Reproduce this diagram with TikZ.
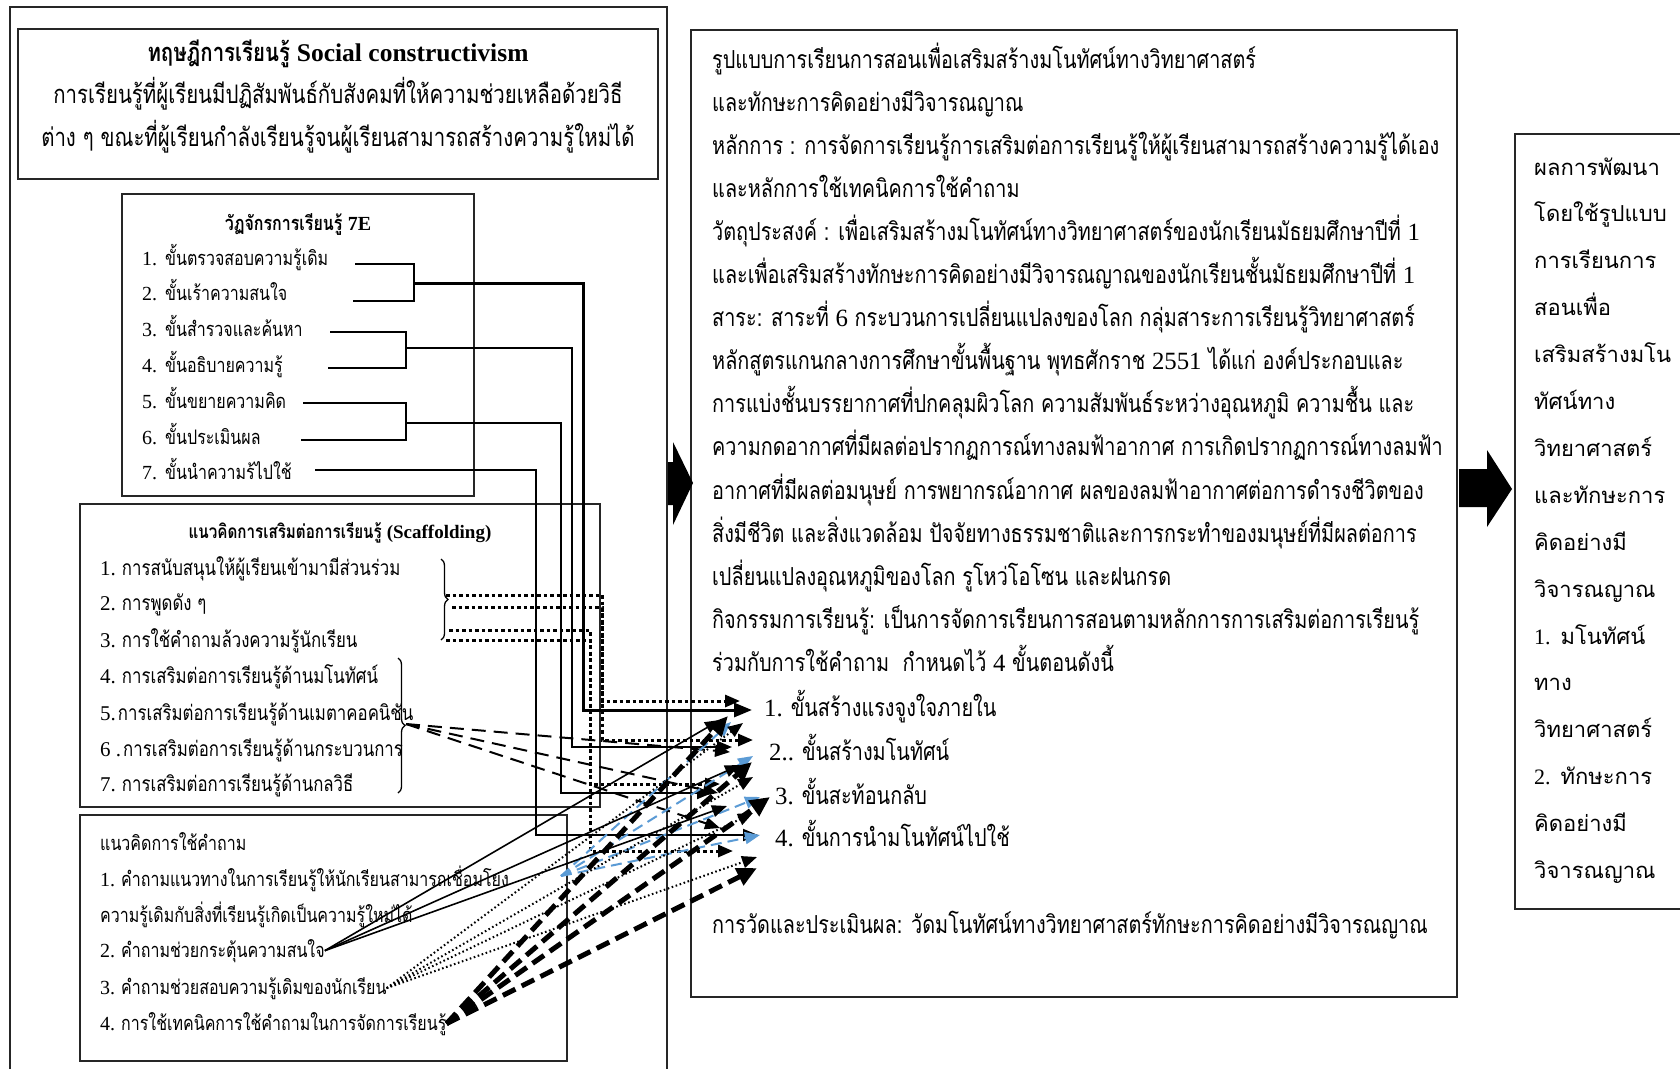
\documentclass[tikz,border=0pt]{standalone}
\usepackage{fontspec}
\setmainfont{Liberation Serif}
\newfontfamily\lat{Liberation Serif}
\newfontfamily\thai[Script=Thai,FakeStretch=0.8]{Loma}
\newfontfamily\thaiw[Script=Thai]{Loma}
\usetikzlibrary{arrows.meta,decorations.pathreplacing,calc}
\definecolor{lineblue}{HTML}{5B9BD5}
\begin{document}
\begin{tikzpicture}[x=1pt,y=-1pt,
  frame/.style={draw=black!85,line width=1.2pt},
  txt/.style={inner sep=0pt,anchor=base west},
  ctxt/.style={inner sep=0pt,anchor=base},
  big/.style={font=\fontsize{24.8}{24}\selectfont\thai},
  head/.style={font=\fontsize{25.5}{24}\selectfont\thai},
  mid/.style={font=\fontsize{20}{20}\selectfont\thai},
  small/.style={font=\fontsize{21}{21}\selectfont\thai},
  qtxt/.style={font=\fontsize{20}{20}\selectfont\thai},
  sctitle/.style={font=\fontsize{19}{19}\selectfont\thai},
  side/.style={font=\fontsize{22}{22}\selectfont\thaiw},
  tip/.style={-{Triangle[length=15pt,width=12pt]}},
  bigtip/.style={-{Triangle[length=20pt,width=18pt]}},
  link/.style={line width=2pt,tip},
  linkthick/.style={line width=3pt,-{Triangle[length=18pt,width=14pt]}},
  sdot/.style={line width=3pt,dash pattern=on 3.5pt off 3pt,tip},
  sdash/.style={line width=2pt,dash pattern=on 14pt off 8pt,tip},
  qblue/.style={draw=lineblue,line width=2pt,dash pattern=on 11pt off 6pt,-{Triangle[length=15pt,width=12pt,fill=lineblue]}},
  qsolid/.style={line width=1.6pt,tip},
  qdot/.style={line width=2pt,dash pattern=on 1.6pt off 2.6pt,tip},
  qdash/.style={line width=5pt,dash pattern=on 14pt off 7pt,bigtip},
  brk/.style={line width=1.3pt}
]
\useasboundingbox[fill=white] (0,0) rectangle (1680,1069);

% ---------- frames ----------
\draw[frame] (10,1069) -- (10,7) -- (667,7) -- (667,1069);
\draw[frame] (18,29) rectangle (658,179);
\draw[frame] (122,194) rectangle (474,496);
\draw[frame] (80,504) rectangle (600,807);
\draw[frame] (80,815) rectangle (567,1061);
\draw[frame] (691,30) rectangle (1457,997);
\draw[frame] (1680,134) -- (1515,134) -- (1515,909) -- (1680,909);

% ---------- block arrows ----------
\fill (668,462) -- (673,462) -- (673,442) -- (693,483) -- (673,525) -- (673,505) -- (668,505) -- cycle;
\fill (1459,469) -- (1487,469) -- (1487,450) -- (1512,489) -- (1487,527) -- (1487,507) -- (1459,507) -- cycle;

% ---------- theory ----------
\node[ctxt,head] (th0) at (338,61) {\bfseries ทฤษฎีการเรียนรู้ {\lat\bfseries Social constructivism}};
\node[ctxt,head] (th1) at (338,103) {การเรียนรู้ที่ผู้เรียนมีปฏิสัมพันธ์กับสังคมที่ให้ความช่วยเหลือด้วยวิธี};
\node[ctxt,head] (th2) at (338,146) {ต่าง ๆ ขณะที่ผู้เรียนกำลังเรียนรู้จนผู้เรียนสามารถสร้างความรู้ใหม่ได้};

% ---------- 7E cycle ----------
\node[ctxt,mid] (e0) at (298,230) {\bfseries วัฏจักรการเรียนรู้ {\lat\bfseries 7E}};
\foreach \t [count=\i] in {ขั้นตรวจสอบความรู้เดิม,ขั้นเร้าความสนใจ,ขั้นสำรวจและค้นหา,ขั้นอธิบายความรู้,ขั้นขยายความคิด,ขั้นประเมินผล,ขั้นนำความร้ไปใช้}
  \node[txt,mid] (e\i) at (142,{265+35.8*(\i-1)}) {{\lat\i.}\hspace{8pt}\t};

% ---------- scaffolding ----------
\node[ctxt,sctitle] (sc0) at (340,538) {\bfseries แนวคิดการเสริมต่อการเรียนรู้ {\lat\bfseries (Scaffolding)}};
\node[txt,small] (sc1) at (100,575) {{\lat 1.}\hspace{6pt}การสนับสนุนให้ผู้เรียนเข้ามามีส่วนร่วม};
\node[txt,small] (sc2) at (100,610) {{\lat 2.}\hspace{6pt}การพูดดัง ๆ};
\node[txt,small] (sc3) at (100,647) {{\lat 3.}\hspace{6pt}การใช้คำถามล้วงความรู้นักเรียน};
\node[txt,small] (sc4) at (100,683) {{\lat 4.}\hspace{6pt}การเสริมต่อการเรียนรู้ด้านมโนทัศน์};
\node[txt,small] (sc5) at (100,720) {{\lat 5.}\hspace{2pt}การเสริมต่อการเรียนรู้ด้านเมตาคอคนิชัน};
\node[txt,small] (sc6) at (100,756) {{\lat 6 .}\hspace{2pt}การเสริมต่อการเรียนรู้ด้านกระบวนการ};
\node[txt,small] (sc7) at (100,791) {{\lat 7.}\hspace{6pt}การเสริมต่อการเรียนรู้ด้านกลวิธี};

% ---------- questioning ----------
\node[txt,qtxt] (q0) at (100,850) {แนวคิดการใช้คำถาม};
\node[txt,qtxt] (q1) at (100,886) {{\lat 1.}\hspace{6pt}คำถามแนวทางในการเรียนรู้ให้นักเรียนสามารถเชื่อมโยง};
\node[txt,qtxt] (q1b) at (100,922) {ความรู้เดิมกับสิ่งที่เรียนรู้เกิดเป็นความรู้ใหม่ได้};
\node[txt,qtxt] (q2) at (100,957) {{\lat 2.}\hspace{6pt}คำถามช่วยกระตุ้นความสนใจ};
\node[txt,qtxt] (q3) at (100,994) {{\lat 3.}\hspace{6pt}คำถามช่วยสอบความรู้เดิมของนักเรียน};
\node[txt,qtxt] (q4) at (100,1030) {{\lat 4.}\hspace{6pt}การใช้เทคนิคการใช้คำถามในการจัดการเรียนรู้};

% ---------- model description ----------
\foreach \t [count=\i] in {%
  รูปแบบการเรียนการสอนเพื่อเสริมสร้างมโนทัศน์ทางวิทยาศาสตร์,
  และทักษะการคิดอย่างมีวิจารณญาณ,
  หลักการ : การจัดการเรียนรู้การเสริมต่อการเรียนรู้ให้ผู้เรียนสามารถสร้างความรู้ได้เอง,
  และหลักการใช้เทคนิคการใช้คำถาม,
  วัตถุประสงค์ : เพื่อเสริมสร้างมโนทัศน์ทางวิทยาศาสตร์ของนักเรียนมัธยมศึกษาปีที่ {\lat 1},
  และเพื่อเสริมสร้างทักษะการคิดอย่างมีวิจารณญาณของนักเรียนชั้นมัธยมศึกษาปีที่ {\lat 1},
  สาระ: สาระที่ {\lat 6} กระบวนการเปลี่ยนแปลงของโลก กลุ่มสาระการเรียนรู้วิทยาศาสตร์,
  หลักสูตรแกนกลางการศึกษาขั้นพื้นฐาน พุทธศักราช {\lat 2551} ได้แก่ องค์ประกอบและ,
  การแบ่งชั้นบรรยากาศที่ปกคลุมผิวโลก ความสัมพันธ์ระหว่างอุณหภูมิ ความชื้น และ,
  ความกดอากาศที่มีผลต่อปรากฏการณ์ทางลมฟ้าอากาศ การเกิดปรากฏการณ์ทางลมฟ้า,
  อากาศที่มีผลต่อมนุษย์ การพยากรณ์อากาศ ผลของลมฟ้าอากาศต่อการดำรงชีวิตของ,
  สิ่งมีชีวิต และสิ่งแวดล้อม ปัจจัยทางธรรมชาติและการกระทำของมนุษย์ที่มีผลต่อการ,
  เปลี่ยนแปลงอุณหภูมิของโลก รูโหว่โอโซน และฝนกรด,
  กิจกรรมการเรียนรู้: เป็นการจัดการเรียนการสอนตามหลักการการเสริมต่อการเรียนรู้,
  ร่วมกับการใช้คำถาม\ \ กำหนดไว้ {\lat 4} ขั้นตอนดังนี้}
  \node[txt,big] (m\i) at (712,{68+43.1*(\i-1)}) {\t};

\node[txt,big] (s1) at (764,716) {{\lat 1.}\hspace{8pt}ขั้นสร้างแรงจูงใจภายใน};
\node[txt,big] (s2) at (769,760) {{\lat 2..}\hspace{8pt}ขั้นสร้างมโนทัศน์};
\node[txt,big] (s3) at (775,804) {{\lat 3.}\hspace{8pt}ขั้นสะท้อนกลับ};
\node[txt,big] (s4) at (775,846) {{\lat 4.}\hspace{8pt}ขั้นการนำมโนทัศน์ไปใช้};
\node[txt,big] (ev) at (712,933) {การวัดและประเมินผล: วัดมโนทัศน์ทางวิทยาศาสตร์ทักษะการคิดอย่างมีวิจารณญาณ};

% ---------- outcome ----------
\foreach \t [count=\i] in {ผลการพัฒนา,โดยใช้รูปแบบ,การเรียนการ,สอนเพื่อ,เสริมสร้างมโน,ทัศน์ทาง,วิทยาศาสตร์,และทักษะการ,คิดอย่างมี,วิจารณญาณ,{\lat 1.} มโนทัศน์,ทาง,วิทยาศาสตร์,{\lat 2.} ทักษะการ,คิดอย่างมี,วิจารณญาณ}
  \node[txt,side] (r\i) at (1534,{175+46.9*(\i-1)}) {\t};

% ---------- link points ----------
\coordinate (b12) at (414,283);
\coordinate (b34) at (406,348);
\coordinate (b56) at (406,423);
\coordinate (b7)  at (315,470);
\coordinate (br2) at (406,724);
\coordinate (q1end) at (561,876);

% ---------- 7E brackets and links ----------
\draw[brk] (355,264) -- (414,264) -- (414,301) -- (353,301);
\draw[brk] (330,332) -- (406,332) -- (406,368) -- (328,368);
\draw[brk] (303,403) -- (406,403) -- (406,440) -- (301,440);
\draw[linkthick] (b12) -| (583,710) -- (752,710);
\draw[link] (b34) -| (572,747) -- (732,747);
\draw[link] (b56) -| (561,793) -- (712,793);
\draw[link] (b7) -| (536,835) -- (758,835);

% ---------- scaffolding braces and links ----------
\draw[brk,decorate,decoration={brace,amplitude=7pt}] (441,559) -- (441,640);
\draw[brk,decorate,decoration={brace,amplitude=7pt}] (398,658) -- (398,793);
\draw[sdot] (446,595) -| (602,701) -- (740,701);
\draw[sdot] (452,607) -| (602,740) -- (753,740);
\draw[sdot] (449,630) -| (590,784) -- (720,784);
\draw[sdot] (446,640) -| (590,851) -- (733,851);
\draw[sdash] (br2) -- (730,752);
\draw[sdash] (br2) -- (718,793);
\draw[sdash] (br2) -- (720,828);

% ---------- questioning links ----------
\foreach \p in {(731,722),(753,756),(760,797),(760,835)}
  \draw[qblue] (q1end) -- \p;
\foreach \p in {(720,720),(740,765),(727,806)}
  \draw[qsolid] (q2.east) -- \p;
\foreach \p in {(743,723),(753,777),(753,813),(757,857)}
  \draw[qdot] (q3.east) -- \p;
\foreach \p in {(728,716),(752,762),(770,797),(757,868)}
  \draw[qdash] (q4.east) -- \p;
\end{tikzpicture}
\end{document}
